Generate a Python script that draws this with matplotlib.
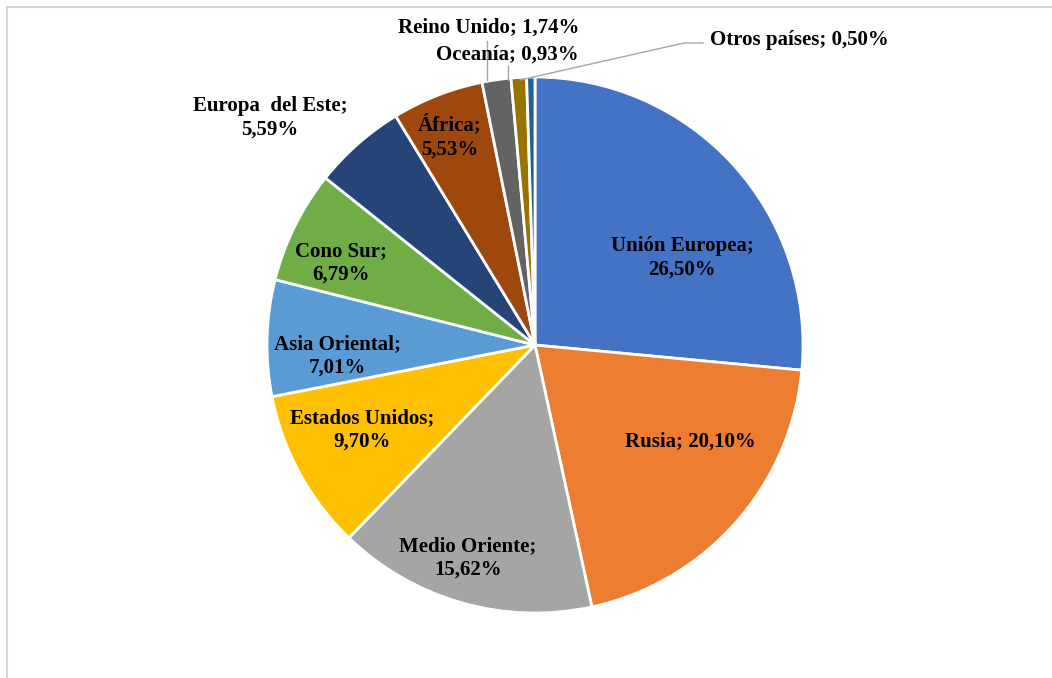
import matplotlib
matplotlib.use("Agg")
import matplotlib.pyplot as plt

categories = ["Unión Europea", "Rusia", "Medio Oriente", "Estados Unidos",
              "Asia Oriental", "Cono Sur", "Europa del Este", "África",
              "Reino Unido", "Oceanía", "Otros países"]
values = [26.50, 20.10, 15.62, 9.70, 7.01, 6.79, 5.59, 5.53, 1.74, 0.93, 0.50]
label_texts = ["Unión Europea;\n26,50%", "Rusia; 20,10%", "Medio Oriente;\n15,62%",
               "Estados Unidos;\n9,70%", "Asia Oriental;\n7,01%", "Cono Sur;\n6,79%",
               "Europa  del Este;\n5,59%", "África;\n5,53%", "Reino Unido; 1,74%",
               "Oceanía; 0,93%", "Otros países; 0,50%"]
colors = ["#4472C4", "#ED7D31", "#A5A5A5", "#FFC000", "#5B9BD5", "#70AD47",
          "#264478", "#9E480E", "#636363", "#997300", "#255E91"]

W, H = 1052, 678
fig = plt.figure(figsize=(W / 100, H / 100), dpi=100)
ax = fig.add_axes([0, 0, 1, 1])

cx, cy, R = 535, H - 345, 268
wedges, _ = ax.pie(values, colors=colors, startangle=90, counterclock=False,
                   center=(cx, cy), radius=R, frame=True,
                   wedgeprops=dict(edgecolor="white", linewidth=2))

ax.set_xlim(0, W)
ax.set_ylim(0, H)
ax.set_aspect("equal")
ax.axis("off")

# label layout (pixel positions, y from top)
label_pos = [(682, 258), (690, 442), (468, 558), (362, 430), (337, 356),
             (341, 263), (270, 118), (450, 137), (489, 28), (507, 55), (799, 40)]
font = dict(family=["Liberation Serif", "DejaVu Serif"], fontweight="bold",
            fontsize=15, color="black")
for txt, (x, y) in zip(label_texts, label_pos):
    ax.text(x, H - y, txt, ha="center", va="center", linespacing=1.25, **font)

# leader lines
lc = "#a6a6a6"
ax.plot([487, 487], [H - 41, H - 80], color=lc, lw=1)
ax.plot([508, 508], [H - 66, H - 80], color=lc, lw=1)
ax.plot([703, 684, 520], [H - 43, H - 43, H - 80], color=lc, lw=1)

# outer frame
fc = "#d4d4d4"
ax.plot([7, W + 5], [H - 7, H - 7], color=fc, lw=1.5, clip_on=False)
ax.plot([7, 7], [H - 7, -5], color=fc, lw=1.5, clip_on=False)

fig.savefig("out.png", dpi=100)
